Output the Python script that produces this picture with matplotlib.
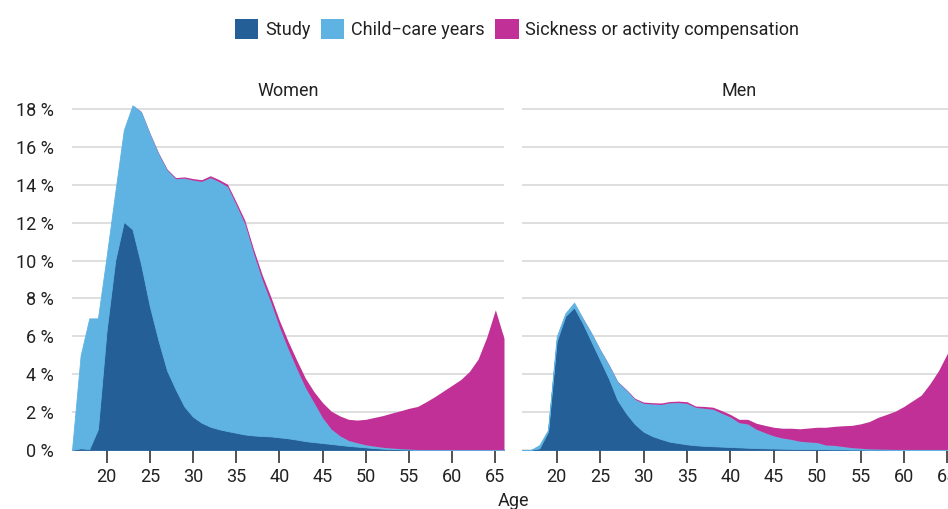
import matplotlib
matplotlib.use("Agg")
import matplotlib.pyplot as plt
from matplotlib.patches import Patch
import numpy as np

plt.rcParams['font.family'] = ['Roboto', 'DejaVu Sans']

ages = list(range(16, 67))

series_names = ["Study", "Child\u2212care years", "Sickness or activity compensation"]
colors = ["#245f97", "#5fb3e2", "#c03096"]

women_study = [0, 0.09, 0.05, 1.1, 6.3, 10.0, 12.05, 11.65, 9.8, 7.6,
               5.8, 4.2, 3.2, 2.3, 1.76, 1.44, 1.23, 1.1, 1.0, 0.91,
               0.82, 0.77, 0.74, 0.72, 0.67, 0.62, 0.55, 0.47, 0.42, 0.37,
               0.32, 0.27, 0.22, 0.18, 0.14, 0.1, 0.07, 0.05, 0.03, 0.02,
               0.01, 0.01, 0.01, 0.01, 0.01, 0.01, 0.01, 0.01, 0.01, 0.01, 0.01]
women_childcare = [0, 4.91, 6.9, 5.85, 3.9, 3.6, 4.85, 6.55, 8.05, 9.1,
                   9.85, 10.58, 11.12, 12.05, 12.49, 12.74, 13.15, 13.07, 12.9, 12.04,
                   11.13, 9.63, 8.26, 7.08, 5.83, 4.73, 3.75, 2.83, 2.08, 1.33,
                   0.78, 0.48, 0.28, 0.2, 0.13, 0.1, 0.07, 0.05, 0.04, 0.03,
                   0.01, 0.01, 0.01, 0.01, 0.01, 0.01, 0.01, 0.01, 0.01, 0.01, 0.01]
women_sickness = [0, 0.0, 0.0, 0.0, 0.0, 0.0, 0.0, 0.0, 0.02, 0.03,
                  0.04, 0.05, 0.06, 0.07, 0.08, 0.09, 0.1, 0.11, 0.13, 0.15,
                  0.18, 0.22, 0.26, 0.3, 0.35, 0.4, 0.45, 0.5, 0.58, 0.8,
                  0.95, 1.05, 1.12, 1.2, 1.35, 1.52, 1.68, 1.85, 2.0, 2.15,
                  2.28, 2.53, 2.8, 3.1, 3.4, 3.7, 4.13, 4.78, 5.93, 7.38, 5.88]

men_study = [0, 0, 0.09, 0.97, 5.75, 7.07, 7.53, 6.69, 5.72, 4.75,
             3.78, 2.64, 1.94, 1.37, 0.97, 0.74, 0.58, 0.44, 0.37, 0.3,
             0.25, 0.22, 0.2, 0.18, 0.16, 0.14, 0.12, 0.1, 0.09, 0.08,
             0.07, 0.06, 0.05, 0.05, 0.04, 0.04, 0.03, 0.03, 0.02, 0.02,
             0.01, 0.01, 0.01, 0.01, 0.01, 0.01, 0.01, 0.01, 0.01, 0.01, 0.01]
men_childcare = [0, 0, 0.17, 0.09, 0.25, 0.15, 0.25, 0.26, 0.44, 0.53,
                 0.71, 0.96, 1.23, 1.31, 1.49, 1.69, 1.82, 2.05, 2.13, 2.16,
                 2.0, 1.98, 1.95, 1.76, 1.58, 1.3, 1.25, 0.99, 0.82, 0.66,
                 0.56, 0.5, 0.41, 0.37, 0.35, 0.22, 0.21, 0.15, 0.1, 0.07,
                 0.05, 0.04, 0.03, 0.02, 0.02, 0.02, 0.02, 0.02, 0.02, 0.02, 0.02]
men_sickness = [0, 0, 0.0, 0.0, 0.0, 0.0, 0.0, 0.01, 0.01, 0.02,
                0.02, 0.02, 0.03, 0.05, 0.07, 0.07, 0.08, 0.07, 0.08, 0.09,
                0.07, 0.1, 0.11, 0.14, 0.14, 0.18, 0.25, 0.32, 0.39, 0.46,
                0.52, 0.59, 0.66, 0.74, 0.81, 0.94, 1.01, 1.1, 1.18, 1.29,
                1.44, 1.67, 1.84, 2.02, 2.27, 2.57, 2.87, 3.47, 4.17, 5.07, 4.27]

panel_titles = ["Women", "Men"]
x_ticks = [20, 25, 30, 35, 40, 45, 50, 55, 60, 65]
y_ticks = [0, 2, 4, 6, 8, 10, 12, 14, 16, 18]

W, H = 948, 509
fig = plt.figure(figsize=(W / 100, H / 100), dpi=100)

y0_px = 450
top_px = 99.6
ax_h = (y0_px - top_px) / H
ax_b = (H - y0_px) / H
axes = [fig.add_axes([72 / W, ax_b, 432 / W, ax_h]),
        fig.add_axes([522 / W, ax_b, 434 / W, ax_h])]

data = [(women_study, women_childcare, women_sickness),
        (men_study, men_childcare, men_sickness)]

text_col = "#222222"
fs = 13
for i, (ax, d, title) in enumerate(zip(axes, data, panel_titles)):
    ax.set_xlim(16, 66)
    ax.set_ylim(0, 18.5)
    ax.set_yticks(y_ticks)
    ax.grid(axis='y', color='#dcdcdc', linewidth=1.3, zorder=0)
    ax.set_axisbelow(True)
    polys = ax.stackplot(ages, *d, colors=colors, zorder=2)
    for p, c, lw in zip(polys, colors, [0.6, 0.6, 0.0]):
        p.set_edgecolor(c)
        p.set_linewidth(lw)
    for s in ax.spines.values():
        s.set_visible(False)
    ax.set_xticks(x_ticks)
    ax.tick_params(axis='x', length=9, width=1.2, color='#333333',
                   labelsize=fs, labelcolor=text_col, pad=4)
    ax.tick_params(axis='y', length=0, labelsize=fs, labelcolor=text_col, pad=13)
    if i == 0:
        ax.set_yticklabels([f"{v} %" for v in y_ticks])
    else:
        ax.set_yticklabels([])
    ax.set_title(title, fontsize=fs, color=text_col, pad=2)

fig.text(513 / W, 1 - 501 / H, "Age", fontsize=fs, color=text_col,
         ha='center', va='center')

handles = [Patch(facecolor=c, edgecolor='none') for c in colors]
fig.legend(handles, series_names, loc='center', bbox_to_anchor=(517 / W, 1 - 29 / H),
           ncol=3, frameon=False, fontsize=fs, handlelength=1.3, handleheight=1.3,
           handletextpad=0.35, columnspacing=0.6, labelcolor=text_col)

fig.savefig("out.png", dpi=100)
